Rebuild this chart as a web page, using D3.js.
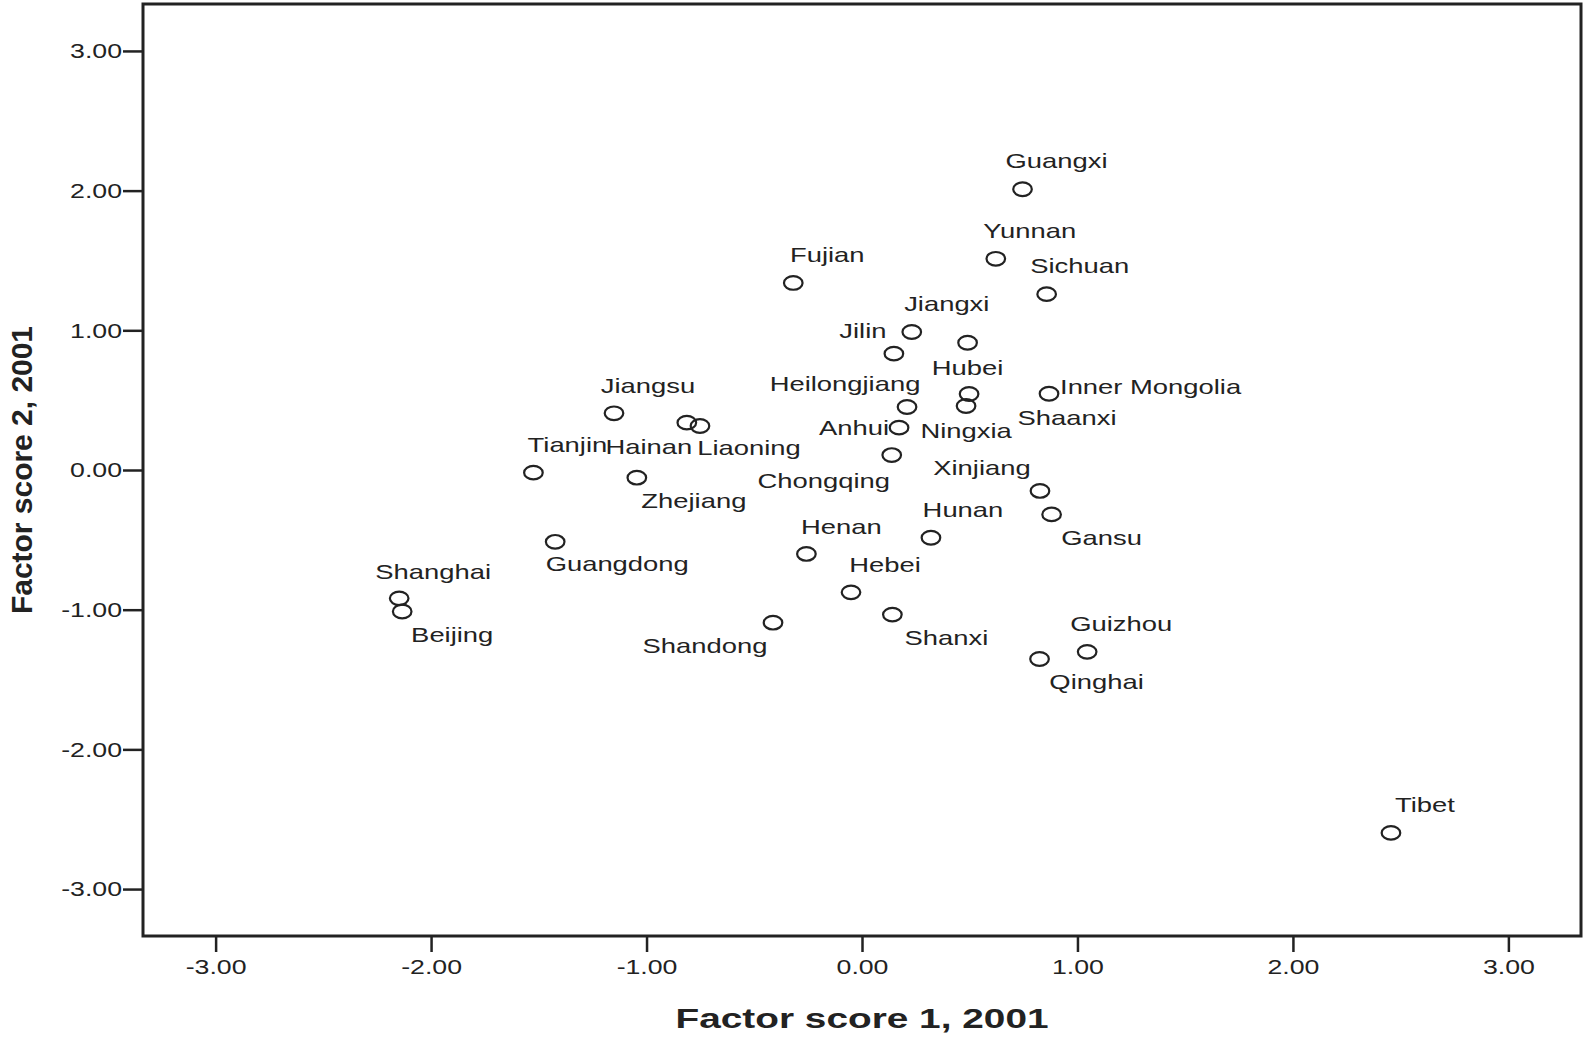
<!DOCTYPE html>
<html>
<head>
<meta charset="utf-8">
<script src="https://cdn.jsdelivr.net/npm/d3@7"></script>
<style>
body { margin: 0; background: #fff; }
text { font-family: "Liberation Sans", Arial, sans-serif; fill: #222; }
</style>
</head>
<body>
<script>
// factor scores per province
const provinces = ['Guangxi', 'Yunnan', 'Sichuan', 'Fujian', 'Jiangxi', 'Hubei', 'Jilin',
    'Shaanxi', 'Ningxia', 'Heilongjiang', 'Inner Mongolia', 'Anhui', 'Jiangsu', 'Hainan',
    'Liaoning', 'Tianjin', 'Zhejiang', 'Chongqing', 'Xinjiang', 'Gansu', 'Hunan', 'Guangdong',
    'Henan', 'Hebei', 'Shanghai', 'Beijing', 'Shandong', 'Shanxi', 'Guizhou', 'Qinghai', 'Tibet'];

const score1 = [0.745, 0.621, 0.857, -0.319, 0.231, 0.490, 0.148,
    0.497, 0.483, 0.209, 0.868, 0.172, -1.151, -0.813,
    -0.752, -1.525, -1.045, 0.138, 0.826, 0.880, 0.320, -1.424,
    -0.258, -0.051, -2.148, -2.134, -0.413, 0.141, 1.045, 0.824, 2.455];

const score2 = [2.010, 1.512, 1.259, 1.339, 0.988, 0.911, 0.833,
    0.544, 0.458, 0.451, 0.546, 0.303, 0.406, 0.339,
    0.315, -0.019, -0.055, 0.107, -0.150, -0.318, -0.485, -0.514,
    -0.601, -0.876, -0.919, -1.013, -1.093, -1.035, -1.302, -1.353, -2.598];

const tickValues = [-3, -2, -1, 0, 1, 2, 3];
const xTitle = 'Factor score 1, 2001',
    yTitle = 'Factor score 2, 2001';

// where each label sits relative to its point (px), like the SPSS output
const labelPlace = {
    'Guangxi': [34, -28], 'Yunnan': [34, -28], 'Sichuan': [33, -28], 'Fujian': [34, -28],
    'Jiangxi': [35, -28], 'Hubei': [0, 25], 'Jilin': [-31, -23], 'Shaanxi': [98, 24],
    'Ningxia': [0, 25], 'Heilongjiang': [-62, -23], 'Inner Mongolia': [11, -7, 'start'],
    'Anhui': [-10, 0, 'end'], 'Jiangsu': [34, -27], 'Hainan': [-38, 24], 'Liaoning': [49, 22],
    'Tianjin': [34, -28], 'Zhejiang': [57, 23], 'Chongqing': [-68, 26], 'Xinjiang': [-58, -23],
    'Gansu': [50, 23], 'Hunan': [32, -28], 'Guangdong': [62, 22], 'Henan': [35, -27],
    'Hebei': [34, -28], 'Shanghai': [34, -27], 'Beijing': [50, 23], 'Shandong': [-68, 23],
    'Shanxi': [54, 23], 'Guizhou': [34, -28], 'Qinghai': [57, 23], 'Tibet': [34, -28]
};

const data = provinces.map((name, i) => ({ name: name, s1: score1[i], s2: score2[i] }));

const outerW = 1583,
    outerH = 1037;

const margin = { left: 143, top: 4, right: 2, bottom: 101 };
const w = outerW - margin.left - margin.right,
    h = outerH - margin.top - margin.bottom;

// the original picture is stretched sideways, so the text is too
const labelStretch = 1.37,
    tickStretch = 1.27;

// SPSS style labels, plain hyphen for negatives
const fmt = d => d.toFixed(2);

const x = d3.scaleLinear().domain([-3.337, 3.337]).range([0, w]);
const y = d3.scaleLinear().domain([-3.336, 3.336]).range([h, 0]);

const svg = d3.select('body').append('svg')
    .attr('width', outerW)
    .attr('height', outerH);

const g = svg.append('g')
    .attr('transform', `translate(${margin.left}, ${margin.top})`);

// axes
const xAxis = g.append('g')
    .attr('class', 'x axis')
    .attr('transform', `translate(0, ${h})`)
    .call(d3.axisBottom(x)
        .tickValues(tickValues)
        .tickFormat(fmt)
        .tickSize(16)
        .tickSizeOuter(0)
        .tickPadding(7)
    );

const yAxis = g.append('g')
    .attr('class', 'y axis')
    .call(d3.axisLeft(y)
        .tickValues(tickValues)
        .tickFormat(fmt)
        .tickSize(20)
        .tickSizeOuter(0)
        .tickPadding(1)
    );

g.selectAll('.axis .domain').remove();
g.selectAll('.axis line').attr('stroke', '#222').attr('stroke-width', 2.5);
g.selectAll('.axis text')
    .style('font-size', '21px')
    .attr('fill', '#222')
    .attr('transform', `scale(${tickStretch}, 1)`);
yAxis.selectAll('text').attr('x', -21 / tickStretch);

// frame
g.append('rect')
    .attr('x', 0)
    .attr('y', 0)
    .attr('width', w)
    .attr('height', h)
    .attr('fill', 'none')
    .attr('stroke', '#222')
    .attr('stroke-width', 3);

// points
const gs = g.selectAll('.pt')
    .data(data)
    .enter()
    .append('g')
    .attr('class', 'pt')
    .attr('transform', d => `translate(${x(d.s1)}, ${y(d.s2)})`);

gs.append('ellipse')
    .attr('rx', 9.3)
    .attr('ry', 6.8)
    .attr('fill', 'none')
    .attr('stroke', '#222')
    .attr('stroke-width', 2.2);

gs.append('text')
    .attr('text-anchor', d => labelPlace[d.name][2] || 'middle')
    .attr('dy', '0.36em')
    .attr('transform', d => `translate(${labelPlace[d.name][0]}, ${labelPlace[d.name][1]}) scale(${labelStretch}, 1)`)
    .style('font-size', '20px')
    .text(d => d.name);

// titles
svg.append('text')
    .attr('text-anchor', 'middle')
    .attr('transform', `translate(${margin.left + x(0)}, 1028) scale(1.386, 1)`)
    .style('font-size', '28px')
    .style('font-weight', 'bold')
    .text(xTitle);

svg.append('text')
    .attr('text-anchor', 'middle')
    .attr('transform', `translate(32, ${margin.top + y(0)}) rotate(-90) scale(1.07, 1.05)`)
    .style('font-size', '28px')
    .style('font-weight', 'bold')
    .text(yTitle);
</script>
</body>
</html>
